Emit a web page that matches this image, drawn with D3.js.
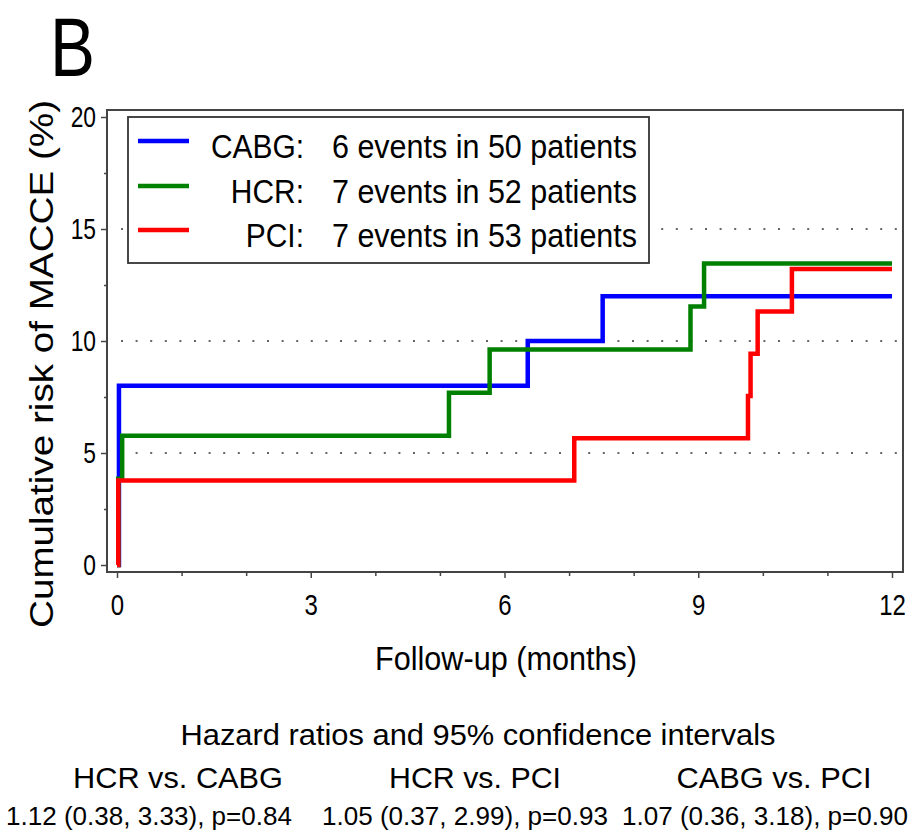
<!DOCTYPE html>
<html>
<head>
<meta charset="utf-8">
<script src="https://cdn.jsdelivr.net/npm/d3@7"></script>
<style>
  html, body { margin: 0; padding: 0; background: #fff; }
  svg { display: block; font-family: "Liberation Sans", Arial, Helvetica, sans-serif; }
</style>
</head>
<body>
<svg id="chart" width="918" height="838"></svg>
<script>
// ---------------- data ----------------
const panelLabel = "B";
const seriesNames = ["CABG", "HCR", "PCI"];
const seriesColors = ["#0000ff", "#008000", "#ff0000"];
const legendTexts = ["6 events in 50 patients", "7 events in 52 patients", "7 events in 53 patients"];

const cabgTimes = [0, 0.03, 6.36, 7.52, 12];
const cabgRisk  = [0, 8.0, 10.0, 12.0, 12.0];
const hcrTimes  = [0, 0.02, 0.08, 5.14, 5.77, 8.88, 9.09, 12];
const hcrRisk   = [0, 3.85, 5.77, 7.69, 9.62, 11.54, 13.46, 13.46];
const pciTimes  = [0, 0.02, 7.08, 9.77, 9.81, 9.92, 10.45, 12];
const pciRisk   = [0, 3.77, 5.66, 7.55, 9.43, 11.32, 13.21, 13.21];

const xMajorTicks = [0, 3, 6, 9, 12];
const xMinorTicks = [1, 2, 4, 5, 7, 8, 10, 11];
const yMajorTicks = [0, 5, 10, 15, 20];
const yMinorTicks = [2.5, 7.5, 12.5, 17.5];
const yGridValues = [5, 10, 15];

const xTitle = "Follow-up (months)";
const yTitle = "Cumulative risk of MACCE (%)";
const hrTitle = "Hazard ratios and 95% confidence intervals";
const hrComparisons = ["HCR vs. CABG", "HCR vs. PCI", "CABG vs. PCI"];
const hrValues = ["1.12 (0.38, 3.33), p=0.84", "1.05 (0.37, 2.99), p=0.93", "1.07 (0.36, 3.18), p=0.90"];

// ---------------- layout ----------------
const svg = d3.select("#chart");
const x = d3.scaleLinear().domain([0, 12]).range([117, 892]);
const y = d3.scaleLinear().domain([0, 20]).range([565, 117]);
const frame = {left: 107, top: 110, right: 903, bottom: 572};
const axisColor = "#444";

function fit(sel, w) {
  sel.attr("textLength", w).attr("lengthAdjust", "spacingAndGlyphs");
}
function condense(sel, f) {
  sel.each(function() {
    const n = this.getComputedTextLength();
    d3.select(this).attr("textLength", n * f).attr("lengthAdjust", "spacingAndGlyphs");
  });
}

// panel label
svg.append("text").attr("x", 50).attr("y", 76)
  .attr("font-size", 84).attr("fill", "#000").text(panelLabel).call(fit, 45);

// gridlines (dotted)
svg.append("g").selectAll("line").data(yGridValues).join("line")
  .attr("x1", frame.left + 14).attr("x2", frame.right - 2)
  .attr("y1", d => y(d)).attr("y2", d => y(d))
  .attr("stroke", "#666").attr("stroke-width", 2)
  .attr("stroke-dasharray", "2,12.6");

// frame
svg.append("rect")
  .attr("x", frame.left).attr("y", frame.top)
  .attr("width", frame.right - frame.left).attr("height", frame.bottom - frame.top)
  .attr("fill", "none").attr("stroke", axisColor).attr("stroke-width", 2);

// y axis
const yAxisG = svg.append("g").attr("transform", `translate(${frame.left},0)`)
  .call(d3.axisLeft(y).tickValues(yMajorTicks).tickSize(6).tickPadding(5).tickFormat(d3.format("d")));
yAxisG.select(".domain").remove();
yAxisG.selectAll("line").attr("stroke", axisColor).attr("stroke-width", 1.5);
yAxisG.selectAll("text").attr("font-size", 30).attr("fill", "#000")
  .attr("font-family", "Liberation Sans, Arial, sans-serif").call(condense, 0.76);
const yMinorG = svg.append("g").attr("transform", `translate(${frame.left},0)`)
  .call(d3.axisLeft(y).tickValues(yMinorTicks).tickSize(3).tickFormat(""));
yMinorG.select(".domain").remove();
yMinorG.selectAll("line").attr("stroke", axisColor).attr("stroke-width", 1.5);

// x axis
const xAxisG = svg.append("g").attr("transform", `translate(0,${frame.bottom})`)
  .call(d3.axisBottom(x).tickValues(xMajorTicks).tickSize(6).tickPadding(16).tickFormat(d3.format("d")));
xAxisG.select(".domain").remove();
xAxisG.selectAll("line").attr("stroke", axisColor).attr("stroke-width", 1.5);
xAxisG.selectAll("text").attr("font-size", 30).attr("fill", "#000")
  .attr("font-family", "Liberation Sans, Arial, sans-serif").call(condense, 0.8);
const xMinorG = svg.append("g").attr("transform", `translate(0,${frame.bottom})`)
  .call(d3.axisBottom(x).tickValues(xMinorTicks).tickSize(4).tickFormat(""));
xMinorG.select(".domain").remove();
xMinorG.selectAll("line").attr("stroke", axisColor).attr("stroke-width", 1.5);

// axis titles
svg.append("text").attr("x", 506).attr("y", 670).attr("text-anchor", "middle")
  .attr("font-size", 34).text(xTitle).call(fit, 262);
svg.append("text").attr("transform", "translate(53,364) rotate(-90)").attr("text-anchor", "middle")
  .attr("font-size", 34).text(yTitle).call(fit, 528);

// curves
const curves = [
  {times: cabgTimes, risk: cabgRisk},
  {times: hcrTimes, risk: hcrRisk},
  {times: pciTimes, risk: pciRisk}
];
const line = d3.line().x(d => x(d[0])).y(d => y(d[1])).curve(d3.curveStepAfter);
svg.append("g").selectAll("path").data(curves).join("path")
  .attr("d", d => line(d.times.map((t, i) => [t, d.risk[i]])))
  .attr("fill", "none")
  .attr("stroke", (d, i) => seriesColors[i])
  .attr("stroke-width", 4.5)
  .attr("stroke-linejoin", "miter");

// legend
const lg = svg.append("g");
lg.append("rect").attr("x", 128).attr("y", 117).attr("width", 521).attr("height", 146)
  .attr("fill", "#fff").attr("stroke", "#333").attr("stroke-width", 1.8);
const rowY = [158, 203, 247];
seriesNames.forEach((name, i) => {
  lg.append("line").attr("x1", 138).attr("x2", 189)
    .attr("y1", rowY[i] - 17).attr("y2", rowY[i] - 17)
    .attr("stroke", seriesColors[i]).attr("stroke-width", 4.5);
  lg.append("text").attr("x", 304).attr("y", rowY[i]).attr("text-anchor", "end")
    .attr("font-size", 34).text(name + ":").call(condense, 0.88);
  lg.append("text").attr("x", 332).attr("y", rowY[i])
    .attr("font-size", 34).text(legendTexts[i]).call(fit, 305);
});

// hazard ratio table
svg.append("text").attr("x", 478).attr("y", 745).attr("text-anchor", "middle")
  .attr("font-size", 30).text(hrTitle).call(fit, 595);
const compCx = [178, 475, 774];
const compW = [210, 172, 195];
const valCx = [149, 465, 765];
hrComparisons.forEach((c, i) => {
  svg.append("text").attr("x", compCx[i]).attr("y", 788).attr("text-anchor", "middle")
    .attr("font-size", 30).text(c).call(fit, compW[i]);
  svg.append("text").attr("x", valCx[i]).attr("y", 825).attr("text-anchor", "middle")
    .attr("font-size", 26.5).text(hrValues[i]).call(fit, 286);
});
</script>
</body>
</html>
